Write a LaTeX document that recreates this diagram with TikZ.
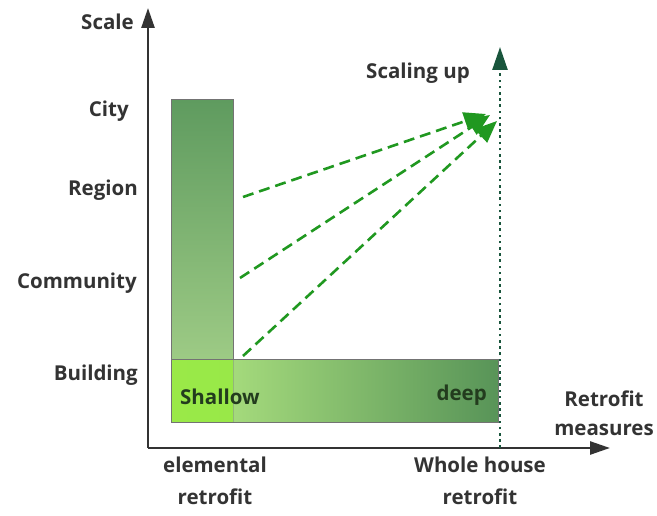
\documentclass[tikz,border=0pt]{standalone}
\usepackage{fontspec}
\setmainfont{Open Sans}
\usetikzlibrary{arrows.meta}
\definecolor{txtgray}{HTML}{333333}
\definecolor{intxt}{RGB}{35,60,30}
\definecolor{bardark}{RGB}{95,155,95}
\definecolor{barlight}{RGB}{172,214,142}
\definecolor{barlime}{RGB}{152,234,68}
\definecolor{barpale}{RGB}{182,234,132}
\definecolor{barend}{RGB}{88,148,88}
\definecolor{dashgreen}{RGB}{32,152,32}
\definecolor{dotgreen}{RGB}{25,85,60}
\begin{document}
\begin{tikzpicture}[x=1pt,y=-1pt,
  lbl/.style={text=txtgray,font=\bfseries\fontsize{20.5}{32}\selectfont,align=center,inner sep=0pt},
  inlbl/.style={text=intxt,font=\bfseries\fontsize{20.5}{24}\selectfont,inner sep=0pt},
  axis/.style={line width=2.6pt,draw=txtgray,-{Triangle[length=20pt,width=13pt]}},
  scaleup/.style={line width=2.6pt,draw=dashgreen,dash pattern=on 11pt off 6pt,
    -{Triangle[length=22pt,width=18pt,fill=dashgreen]}},
  barline/.style={draw=black!55,line width=1pt}]
\useasboundingbox (0,0) rectangle (657,516);

% axes
\coordinate (o) at (148,448);
\coordinate (ytop) at (148,8);
\coordinate (xend) at (610,448);
\draw[axis] (o) -- (ytop);
\draw[axis] (o) -- (xend);

% bars
\fill[top color=bardark,bottom color=barlight] (171,100) rectangle (233,422);
\draw[barline] (171,100) rectangle (233,422);
\fill[left color=barpale,right color=barend] (171,359) rectangle (498,422);
\fill[barlime,fill opacity=0.92] (171,359) rectangle (233,422);
\draw[barline,draw opacity=0.35] (233,359) -- (233,422);
\draw[barline] (171,359) rectangle (498,422);

% whole house line
\coordinate (wbot) at (500,448);
\coordinate (wtop) at (500,47);
\draw[dotgreen,line width=2.6pt,dash pattern=on 2.6pt off 3.6pt,
  -{Triangle[length=23pt,width=15pt]}] (wbot) -- (wtop);

% scaling arrows
\coordinate (s1) at (243,197);
\coordinate (s2) at (240,278);
\coordinate (s3) at (243,356);
\coordinate (e1) at (486,114);
\coordinate (e2) at (490,115);
\coordinate (e3) at (497,121);
\draw[scaleup] (s1) -- (e1);
\draw[scaleup] (s2) -- (e2);
\draw[scaleup] (s3) -- (e3);

% labels
\node[lbl,anchor=east] (scale) at (134,22) {Scale};
\node[lbl,anchor=east] (city) at (129,111) {City};
\node[lbl,anchor=east] (region) at (138,190) {Region};
\node[lbl,anchor=east] (community) at (137,283) {Community};
\node[lbl,anchor=east] (building) at (138,375) {Building};
\node[lbl] (scaling) at (418,73) {Scaling up};
\node[inlbl,anchor=west] (shallow) at (180,397) {Shallow};
\node[inlbl,anchor=east] (deep) at (487,395) {deep};
\node[lbl] (measures) at (604,413) {Retrofit\\[-3pt]measures};
\node[lbl] (elemental) at (215,481) {elemental\\retrofit};
\node[lbl] (whole) at (480,481) {Whole house\\retrofit};
\end{tikzpicture}
\end{document}
